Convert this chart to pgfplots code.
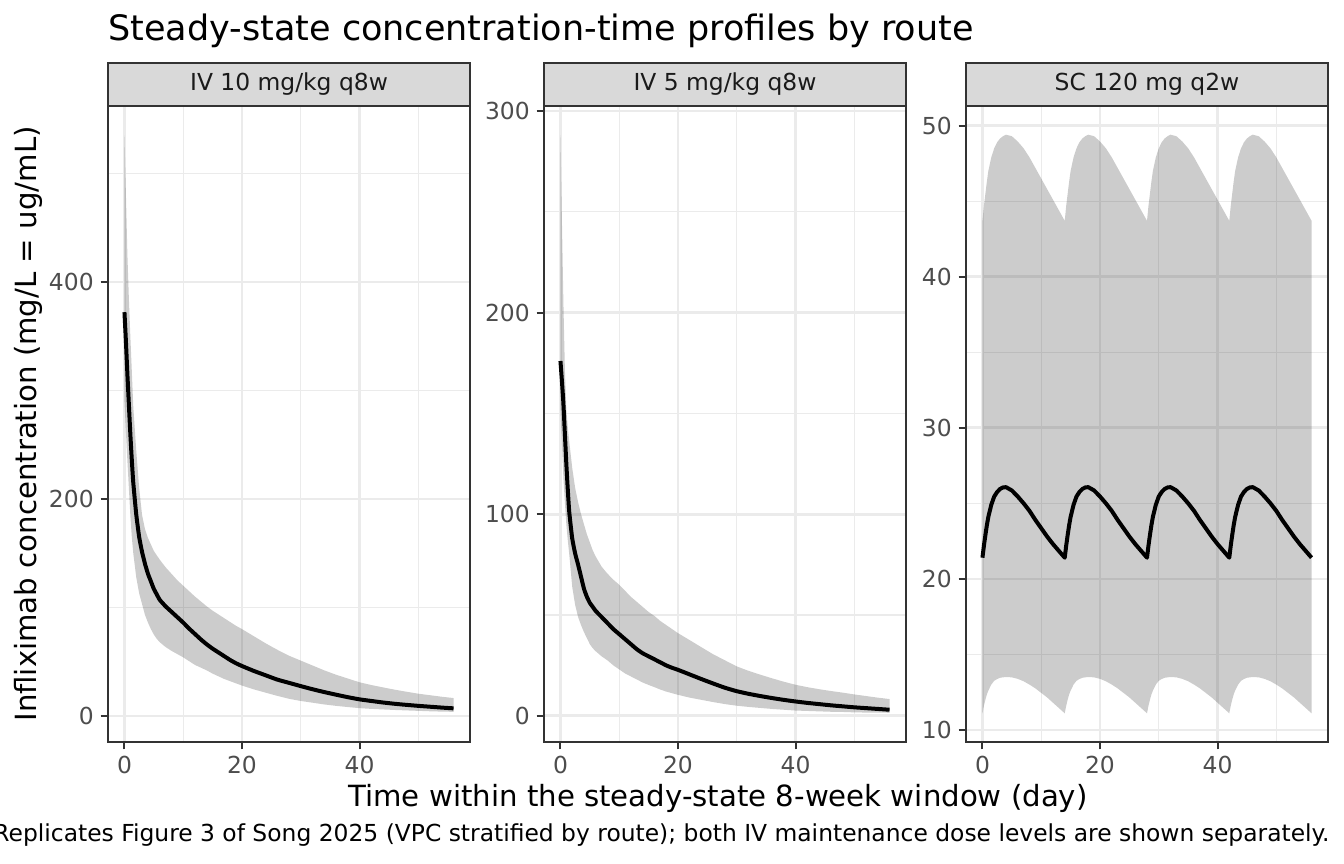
\documentclass[border=0pt]{standalone}
\usepackage{fontspec}
\setmainfont{DejaVu Sans}
\usepackage{pgfplots}
\usepackage{pgfplotstable}
\pgfplotsset{compat=1.18}

\definecolor{gridc}{HTML}{EBEBEB}
\definecolor{borderc}{HTML}{333333}
\definecolor{stripc}{HTML}{D9D9D9}
\definecolor{tickc}{HTML}{4D4D4D}
\definecolor{striptext}{HTML}{1A1A1A}

% IV 10 mg/kg q8w
\pgfplotstableread{
t med lo hi
0 372 290 535
0.25 345 262 480
0.5 315 235 425
0.75 287 210 385
1 260 185 350
1.25 236 165 318
1.5 215 150 285
2 186 128 245
2.5 165 113 210
3 151 103 185
3.5 140 93 172
4 131 86 164
4.5 124 80 158
5 117 75 152
5.5 112 71 148
6 107 68 144
7 101 63.5 137
8 96 60 131
9 91 57 125
10 86 54 120
11 80.5 50.5 115
12 75.5 47 110
13 70.5 44.5 105.5
14 66 42 101
15 62 39 97
16 58.5 36.5 93.5
17 55 34 90
18 51.5 32 86.5
19 48.5 30 83
20 46 28 80
22 41.5 24.5 73.5
24 37.5 21.5 67
26 33.5 18.5 61
28 30.5 15.8 55.5
30 27.5 13.8 51
32 24.6 12.2 46.5
34 22 10.6 42
36 19.6 9.3 38
38 17.3 8.2 34.5
40 15.3 7.2 31
42 13.8 6.5 28.5
44 12.4 6 26.3
46 11.2 5.5 24.2
48 10.2 5.1 22.3
50 9.3 4.7 20.5
52 8.5 4.3 19.1
54 7.7 4 17.7
56 7 3.8 16.5
}\tabA

% IV 5 mg/kg q8w
\pgfplotstableread{
t med lo hi
0 176 152 288
0.25 166 135 245
0.5 155 118 205
0.75 140 106 172
1 125 95 152
1.25 112 87 143
1.5 101 80 136
2 88 64 123
2.5 80.5 55 113
3 75 49 106
3.5 69 45 100
4 63 41.5 95
4.5 59 38.5 90
5 56 35.5 86
5.5 54 33.5 82
6 52 32 79
7 49 29.5 74
8 46 27.5 70.5
9 43 25 67.5
10 40.5 23 65
11 38 21 62
12 35.5 19.5 59
13 33 18 56.5
14 31 16.5 54
15 29.5 15.3 51.5
16 28 14.2 49.5
17 26.5 13 47
18 25 12 45
19 23.8 11.2 43
20 22.8 10.4 41
22 20.5 9 37.5
24 18.2 7.9 34
26 16 6.8 30.5
28 13.9 5.8 27.5
30 12.2 5 24.5
32 10.9 4.4 22.3
34 9.8 3.9 20.4
36 8.8 3.4 18.6
38 7.9 3 16.9
40 7.1 2.6 15.4
42 6.4 2.4 14.2
44 5.8 2.2 13.2
46 5.2 2 12.3
48 4.7 1.9 11.5
50 4.2 1.7 10.6
52 3.8 1.6 9.8
54 3.4 1.55 9
56 3 1.5 8.3
}\tabB

% SC 120 mg q2w
\pgfplotstableread{
t med lo hi
0 21.4 11.1 43.7
0.25 22.2 11.6 44.7
0.5 22.9 12.0 45.5
0.75 23.55 12.35 46.3
1 24.1 12.6 47.0
1.5 24.9 13.0 47.9
2 25.45 13.25 48.5
2.5 25.75 13.37 48.9
3 25.95 13.45 49.15
3.5 26.05 13.48 49.3
4 26.07 13.5 49.4
5 25.85 13.48 49.3
6 25.45 13.38 48.95
7 25.0 13.22 48.5
8 24.5 13.0 47.9
9 23.9 12.75 47.2
10 23.35 12.45 46.5
11 22.8 12.15 45.8
12 22.3 11.8 45.1
13 21.85 11.45 44.4
14 21.4 11.1 43.7
14.25 22.2 11.6 44.7
14.5 22.9 12.0 45.5
14.75 23.55 12.35 46.3
15 24.1 12.6 47.0
15.5 24.9 13.0 47.9
16 25.45 13.25 48.5
16.5 25.75 13.37 48.9
17 25.95 13.45 49.15
17.5 26.05 13.48 49.3
18 26.07 13.5 49.4
19 25.85 13.48 49.3
20 25.45 13.38 48.95
21 25.0 13.22 48.5
22 24.5 13.0 47.9
23 23.9 12.75 47.2
24 23.35 12.45 46.5
25 22.8 12.15 45.8
26 22.3 11.8 45.1
27 21.85 11.45 44.4
28 21.4 11.1 43.7
28.25 22.2 11.6 44.7
28.5 22.9 12.0 45.5
28.75 23.55 12.35 46.3
29 24.1 12.6 47.0
29.5 24.9 13.0 47.9
30 25.45 13.25 48.5
30.5 25.75 13.37 48.9
31 25.95 13.45 49.15
31.5 26.05 13.48 49.3
32 26.07 13.5 49.4
33 25.85 13.48 49.3
34 25.45 13.38 48.95
35 25.0 13.22 48.5
36 24.5 13.0 47.9
37 23.9 12.75 47.2
38 23.35 12.45 46.5
39 22.8 12.15 45.8
40 22.3 11.8 45.1
41 21.85 11.45 44.4
42 21.4 11.1 43.7
42.25 22.2 11.6 44.7
42.5 22.9 12.0 45.5
42.75 23.55 12.35 46.3
43 24.1 12.6 47.0
43.5 24.9 13.0 47.9
44 25.45 13.25 48.5
44.5 25.75 13.37 48.9
45 25.95 13.45 49.15
45.5 26.05 13.48 49.3
46 26.07 13.5 49.4
47 25.85 13.48 49.3
48 25.45 13.38 48.95
49 25.0 13.22 48.5
50 24.5 13.0 47.9
51 23.9 12.75 47.2
52 23.35 12.45 46.5
53 22.8 12.15 45.8
54 22.3 11.8 45.1
55 21.85 11.45 44.4
56 21.4 11.1 43.7
}\tabC

\pgfplotsset{
  panel/.style={
    scale only axis, width=181bp, height=318bp, anchor=south west,
    xmin=-2.8, xmax=58.8, xtick={0,20,40}, minor xtick={10,30,50},
    grid=both,
    major grid style={draw=gridc, line width=1.3bp},
    minor grid style={draw=gridc, line width=0.65bp},
    axis line style={draw=borderc, line width=1bp},
    tick align=outside, major tick length=3.65bp, minor tick length=0pt,
    tick style={draw=borderc, line width=1bp},
    xtick pos=left, ytick pos=left,
    tick label style={font=\fontsize{11.7bp}{13bp}\selectfont, text=tickc},
    /pgf/number format/assume math mode=true,
  },
  ribbon/.style={fill=black, fill opacity=0.2, draw=none},
  medline/.style={black, line width=2bp, line join=round},
}

\newcommand{\facetstrip}[2]{%
  \draw[fill=stripc, draw=borderc, line width=1bp] (#1.north west) rectangle ([yshift=21.5bp]#1.north east);
  \node[font=\fontsize{11.7bp}{13bp}\selectfont, text=striptext] at ([yshift=10.75bp]#1.north) {#2};
}

\begin{document}
\begin{tikzpicture}
\path[use as bounding box] (0,0) rectangle (672bp,432bp);

\begin{axis}[panel, name=p1, at={(54bp,61bp)}, ymin=-24, ymax=562,
  ytick={0,200,400}, minor ytick={100,300,500}]
\addplot[draw=none, stack plots=y] table[x=t,y=lo]{\tabA};
\addplot[ribbon, stack plots=y] table[x=t,y expr=\thisrow{hi}-\thisrow{lo}]{\tabA} \closedcycle;
\addplot[medline, smooth, tension=0.3, stack plots=false] table[x=t,y=med]{\tabA};
\end{axis}
\facetstrip{p1}{IV 10 mg/kg q8w}

\begin{axis}[panel, name=p2, at={(272bp,61bp)}, ymin=-13, ymax=302.5,
  ytick={0,100,200,300}, minor ytick={50,150,250}]
\addplot[draw=none, stack plots=y] table[x=t,y=lo]{\tabB};
\addplot[ribbon, stack plots=y] table[x=t,y expr=\thisrow{hi}-\thisrow{lo}]{\tabB} \closedcycle;
\addplot[medline, smooth, tension=0.3, stack plots=false] table[x=t,y=med]{\tabB};
\end{axis}
\facetstrip{p2}{IV 5 mg/kg q8w}

\begin{axis}[panel, name=p3, at={(483bp,61bp)}, ymin=9.2, ymax=51.3,
  ytick={10,20,30,40,50}, minor ytick={15,25,35,45}]
\addplot[draw=none, stack plots=y] table[x=t,y=lo]{\tabC};
\addplot[ribbon, stack plots=y] table[x=t,y expr=\thisrow{hi}-\thisrow{lo}]{\tabC} \closedcycle;
\addplot[medline, stack plots=false] table[x=t,y=med]{\tabC};
\end{axis}
\facetstrip{p3}{SC 120 mg q2w}

\node[anchor=base west, inner sep=0, font=\fontsize{17.5bp}{20bp}\selectfont] at (54bp,411.5bp) {Steady-state concentration-time profiles by route};
\node[rotate=90, inner sep=0, font=\fontsize{14.6bp}{17bp}\selectfont] at (14bp,220bp) {Infliximab concentration (mg/L = ug/mL)};
\node[inner sep=0, font=\fontsize{14.6bp}{17bp}\selectfont] at (359bp,33bp) {Time within the steady-state 8-week window (day)};
\node[anchor=east, inner sep=0, font=\fontsize{11.7bp}{13bp}\selectfont] at (665bp,14.5bp) {Replicates Figure 3 of Song 2025 (VPC stratified by route); both IV maintenance dose levels are shown separately.};
\end{tikzpicture}
\end{document}
